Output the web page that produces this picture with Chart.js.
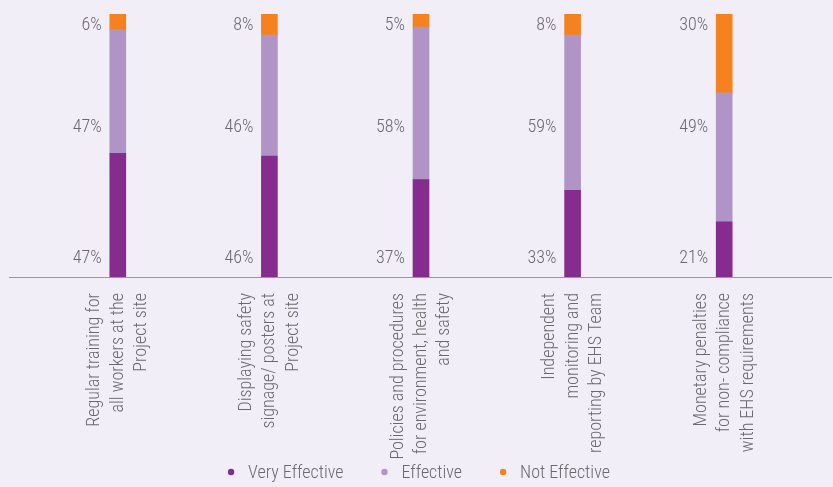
<!DOCTYPE html>
<html>
<head>
<meta charset="utf-8">
<script src="https://cdn.jsdelivr.net/npm/chart.js@4"></script>
<style>
  html, body { margin: 0; padding: 0; background: #f2eef7; }
  #wrap { width: 833px; height: 487px; }
</style>
</head>
<body>
<div id="wrap"><canvas id="chart" width="833" height="487"></canvas></div>
<script>
const categories = [
    ['Regular training for', 'all workers at the', 'Project site'],
    ['Displaying safety', 'signage/ posters at', 'Project site'],
    ['Policies and procedures', 'for environment, health', 'and safety'],
    ['Independent', 'monitoring and', 'reporting by EHS Team'],
    ['Monetary penalties', 'for non- compliance', 'with EHS requirements']
];
const veryEffective = [47, 46, 37, 33, 21];
const effective = [47, 46, 58, 59, 49];
const notEffective = [6, 8, 5, 8, 30];
const seriesNames = ['Very Effective', 'Effective', 'Not Effective'];
const seriesColors = ['#862c8e', '#b194c6', '#f5821f'];

const FONT = "'Roboto Condensed', 'Liberation Sans', sans-serif";
const TEXT = '#6a6a6e';

// value labels sit in three fixed rows left of each bar (bottom, middle, top)
const labelRows = [7, 57, 95.5];

const valueLabels = {
    id: 'valueLabels',
    afterDatasetsDraw(chart) {
        const ctx = chart.ctx;
        const y = chart.scales.y;
        ctx.save();
        ctx.font = '300 18px ' + FONT;
        ctx.fillStyle = TEXT;
        ctx.textAlign = 'right';
        ctx.textBaseline = 'middle';
        chart.data.datasets.forEach((ds, di) => {
            const meta = chart.getDatasetMeta(di);
            meta.data.forEach((bar, i) => {
                const left = bar.x - bar.width / 2;
                ctx.fillText(ds.data[i] + '%', left - 8, y.getPixelForValue(labelRows[di]));
            });
        });
        ctx.restore();
    }
};

// baseline runs wider than the plot area
const baseline = {
    id: 'baseline',
    beforeDatasetsDraw(chart) {
        const ctx = chart.ctx;
        const yb = chart.scales.y.getPixelForValue(0) + 0.5;
        ctx.save();
        ctx.strokeStyle = '#9b97a0';
        ctx.lineWidth = 1.2;
        ctx.beginPath();
        ctx.moveTo(9, yb);
        ctx.lineTo(832, yb);
        ctx.stroke();
        ctx.restore();
    }
};

// legend row drawn by hand so the gaps stay tight
const dotLegend = {
    id: 'dotLegend',
    afterDraw(chart) {
        const ctx = chart.ctx;
        ctx.save();
        ctx.font = '300 18px ' + FONT;
        ctx.textBaseline = 'middle';
        const gapDot = 17, gapItem = 41, ly = 473;
        const widths = seriesNames.map(n => gapDot + ctx.measureText(n).width);
        const total = widths.reduce((a, b) => a + b, 0) + gapItem * (widths.length - 1);
        let x = chart.width / 2 - total / 2 + 4;
        seriesNames.forEach((name, i) => {
            ctx.fillStyle = seriesColors[i];
            ctx.beginPath();
            ctx.arc(x, ly - 1, 3.2, 0, Math.PI * 2);
            ctx.fill();
            ctx.fillStyle = TEXT;
            ctx.textAlign = 'left';
            ctx.fillText(name, x + gapDot, ly);
            x += widths[i] + gapItem;
        });
        ctx.restore();
    }
};

new Chart(document.getElementById('chart'), {
    type: 'bar',
    data: {
        labels: categories,
        datasets: [veryEffective, effective, notEffective].map((d, i) => ({
            label: seriesNames[i],
            data: d,
            backgroundColor: seriesColors[i],
            barThickness: 16,
            borderWidth: 0
        }))
    },
    options: {
        responsive: false,
        animation: false,
        devicePixelRatio: 1,
        layout: { padding: { left: 42, right: 33, top: 14, bottom: 0 } },
        plugins: {
            legend: { display: false },
            tooltip: { enabled: false }
        },
        scales: {
            x: {
                stacked: true,
                grid: { display: false },
                border: { display: false },
                afterFit: (scale) => { scale.height = 210; },
                ticks: {
                    autoSkip: false,
                    minRotation: 90,
                    maxRotation: 90,
                    padding: 8,
                    labelOffset: -23,
                    color: TEXT,
                    font: { family: FONT, size: 18, weight: '300', lineHeight: 1.3 }
                }
            },
            y: {
                stacked: true,
                display: false,
                min: 0,
                max: 100
            }
        }
    },
    plugins: [baseline, valueLabels, dotLegend]
});
</script>
</body>
</html>
